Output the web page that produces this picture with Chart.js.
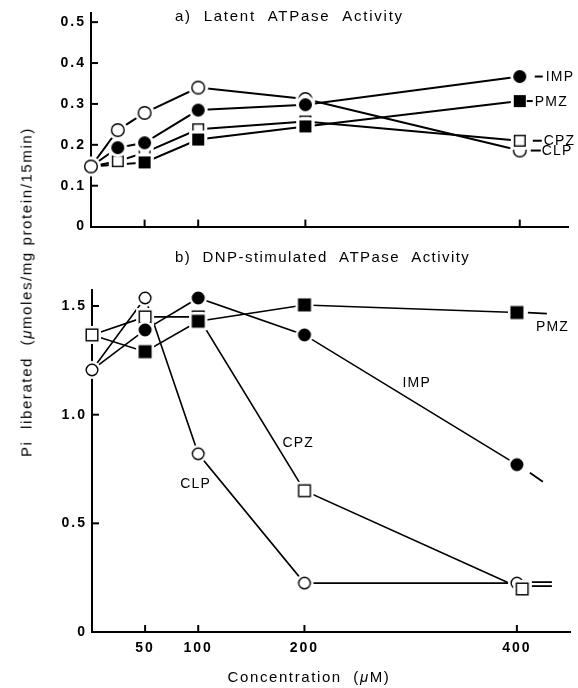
<!DOCTYPE html>
<html><head><meta charset="utf-8">
<script src="https://cdn.jsdelivr.net/npm/chart.js@4"></script>
<style>
html,body{margin:0;padding:0;background:#fff;width:578px;height:688px;overflow:hidden;position:relative}
canvas{position:absolute;left:0}
.txt{position:absolute;font-family:'Liberation Sans',Arial,sans-serif;font-size:15px;letter-spacing:1.6px;white-space:pre;color:#000}
#ytitle{left:26px;top:292px;transform:translate(-50%,-50%) rotate(-90deg)}
#xtitle{left:309px;top:676px;transform:translate(-50%,-50%)}
</style></head><body>
<canvas id="ca" width="578" height="240" style="top:0"></canvas>
<canvas id="cb" width="578" height="448" style="top:240px"></canvas>
<div id="ytitle" class="txt">Pi  liberated  (<i>μ</i>moles/mg protein/15min)</div>
<div id="xtitle" class="txt">Concentration  (<i>μ</i>M)</div>
<script>
// ---------- data ----------
// panel a) Latent ATPase Activity
const concA = [0, 25, 50, 100, 200, 400];
const clpA = [0.147, 0.236, 0.278, 0.34, 0.312, 0.186];
const impA = [0.147, 0.193, 0.205, 0.285, 0.298, 0.367];
const cpzA = [0.147, 0.160, 0.181, 0.238, 0.257, 0.210];
const pmzA = [0.147, null, 0.157, 0.213, 0.245, 0.307];
// panel b) DNP-stimulated ATPase Activity
const concB = [0, 50, 100, 200, 400];
const concB_cpz = [0, 50, 100, 200, 405];
const clpB = [1.206, 1.537, 0.82, 0.225, 0.225];
const impB = [1.206, 1.39, 1.537, 1.367, 0.77];
const cpzB = [1.367, 1.45, 1.45, 0.65, 0.198];
const pmzB = [1.367, 1.29, 1.43, 1.505, 1.47];
// ticks
const xTickVals = [50, 100, 200, 400];
const xTickLabels = ['50', '100', '200', '400'];
const yTickValsA = [0, 0.1, 0.2, 0.3, 0.4, 0.5];
const yTickLabelsA = ['0', '0.1', '0.2', '0.3', '0.4', '0.5'];
const yTickValsB = [0, 0.5, 1.0, 1.5];
const yTickLabelsB = ['0', '0.5', '1.0', '1.5'];
const titleA = 'a)  Latent  ATPase  Activity';
const titleB = 'b)  DNP-stimulated  ATPase  Activity';

// ---------- marker images ----------
function marker(shape, filled, size, halo) {
  const c = document.createElement('canvas');
  const S = Math.ceil(size + 2 * halo + 2);
  c.width = S; c.height = S;
  const g = c.getContext('2d');
  const m = S / 2;
  g.fillStyle = '#fff';
  if (shape === 'circle') { g.beginPath(); g.arc(m, m, size / 2 + halo, 0, 2 * Math.PI); g.fill(); }
  else { g.fillRect(m - size / 2 - halo, m - size / 2 - halo, size + 2 * halo, size + 2 * halo); }
  g.lineWidth = 1.4; g.strokeStyle = '#000'; g.fillStyle = filled ? '#000' : '#fff';
  if (shape === 'circle') { g.beginPath(); g.arc(m, m, size / 2 - 0.7, 0, 2 * Math.PI); g.fill(); g.stroke(); }
  else { g.fillRect(m - size / 2 + 0.7, m - size / 2 + 0.7, size - 1.4, size - 1.4); g.strokeRect(m - size / 2 + 0.7, m - size / 2 + 0.7, size - 1.4, size - 1.4); }
  return c;
}

const FONT = "'Liberation Sans', Arial, sans-serif";

function pts(xs, ys) { const out = []; xs.forEach((x, i) => { if (ys[i] !== null) out.push({ x: x, y: ys[i] }); }); return out; }

// line-only dataset (drawn beneath every marker)
function lineDs(label, xs, ys, lw) {
  return { label, data: pts(xs, ys), pointRadius: 0, borderColor: '#000', borderWidth: lw, tension: 0,
    order: 10, clip: false, spanGaps: true };
}
// marker-only dataset
function markDs(label, xs, ys, img, order, showFirst) {
  return { label, data: pts(xs, ys), showLine: false, pointStyle: img,
    pointRadius: c => (c.dataIndex === 0 && !showFirst) ? 0 : 7,
    order, clip: false };
}

const decoPlugin = {
  id: 'deco',
  beforeDraw(chart) { chart.ctx.letterSpacing = '2px'; },
  afterDraw(chart, args, opts) {
    const ctx = chart.ctx; const xs = chart.scales.x, ys = chart.scales.y;
    ctx.save();
    ctx.strokeStyle = '#000'; ctx.lineWidth = 2; ctx.lineCap = 'butt';
    // inward ticks
    xTickVals.forEach(v => { const px = xs.getPixelForValue(v); ctx.beginPath(); ctx.moveTo(px, ys.bottom); ctx.lineTo(px, ys.bottom - 7); ctx.stroke(); });
    opts.yTicks.forEach(v => { if (v === 0) return; const py = ys.getPixelForValue(v); ctx.beginPath(); ctx.moveTo(xs.left, py); ctx.lineTo(xs.left + 7, py); ctx.stroke(); });
    // panel title
    ctx.fillStyle = '#000'; ctx.letterSpacing = opts.titleSp;
    ctx.font = '15px ' + FONT; ctx.textBaseline = 'middle'; ctx.textAlign = 'left';
    ctx.fillText(opts.title, opts.titleX, opts.titleY);
    // series labels & dashes (relative to a data point)
    ctx.letterSpacing = '1.2px'; ctx.font = '14px ' + FONT;
    ctx.lineWidth = opts.dashW;
    opts.labels.forEach(l => {
      const px = xs.getPixelForValue(l.x), py = ys.getPixelForValue(l.y);
      if (l.dash) l.dash.forEach(d => { ctx.beginPath(); ctx.moveTo(px + d[0], py + d[1]); ctx.lineTo(px + d[2], py + d[3]); ctx.stroke(); });
      if (l.text) ctx.fillText(l.text, px + l.tx, py + l.ty);
    });
    ctx.restore();
  }
};

function ticksFrom(vals, labels) {
  return {
    afterBuildTicks: s => { s.ticks = vals.map(v => ({ value: v })); },
    callback: (v) => { const i = vals.indexOf(v); return i >= 0 ? labels[i] : ''; }
  };
}

function makeChart(id, cfg) {
  const yt = ticksFrom(cfg.yTicks, cfg.yLabels);
  const xt = ticksFrom(xTickVals, xTickLabels);
  return new Chart(document.getElementById(id), {
    type: 'line',
    data: { datasets: cfg.datasets },
    options: {
      responsive: false, animation: false, devicePixelRatio: 1,
      layout: { padding: cfg.padding },
      plugins: { legend: { display: false }, tooltip: { enabled: false },
        deco: { yTicks: cfg.yTicks, title: cfg.title, titleX: cfg.titleX, titleY: cfg.titleY, titleSp: cfg.titleSp, labels: cfg.labels, dashW: cfg.dashW } },
      scales: {
        x: { type: 'linear', min: 0, max: cfg.xmax, afterBuildTicks: xt.afterBuildTicks,
          afterFit: s => { s.height = cfg.xh; },
          grid: { display: false, drawTicks: false }, border: { display: true, color: '#000', width: 2 },
          ticks: { display: cfg.xLabels, callback: xt.callback, padding: 8, maxRotation: 0, autoSkip: false,
            color: '#000', font: { family: FONT, size: 14, weight: 'bold' } } },
        y: { type: 'linear', min: 0, max: cfg.ymax, afterBuildTicks: yt.afterBuildTicks,
          afterFit: s => { s.width = cfg.yw; },
          grid: { display: false, drawTicks: false }, border: { display: true, color: '#000', width: 2 },
          ticks: { callback: yt.callback, padding: 5, autoSkip: false, color: '#000', font: { family: FONT, size: 14, weight: 'bold' } } }
      }
    },
    plugins: [decoPlugin]
  });
}

// panel a
const hA = 3;
makeChart('ca', {
  datasets: [
    lineDs('PMZ', concA, pmzA, 2), lineDs('IMP', concA, impA, 2), lineDs('CPZ', concA, cpzA, 2), lineDs('CLP', concA, clpA, 2),
    markDs('PMZ', concA, pmzA, marker('square', true, 12, hA), 0, false),
    markDs('IMP', concA, impA, marker('circle', true, 13, hA), 1, false),
    markDs('CPZ', concA, cpzA, marker('square', false, 12, hA), 2, false),
    markDs('CLP', concA, clpA, marker('circle', false, 14, hA), 3, true)
  ],
  padding: { left: 0, right: 10, top: 12, bottom: 0 },
  xmax: 445, ymax: 0.5214, xh: 9, yw: 91, xLabels: false,
  yTicks: yTickValsA, yLabels: yTickLabelsA,
  title: titleA, titleX: 175, titleY: 17, titleSp: '1.75px', dashW: 2,
  labels: [
    { x: 400, y: impA[5], dash: [[15, 0, 23, 0]], text: 'IMP', tx: 26, ty: 1 },
    { x: 400, y: pmzA[5], dash: [[7, 0, 13, 0]], text: 'PMZ', tx: 15, ty: 1 },
    { x: 400, y: cpzA[5], dash: [[13, 0, 22, 0]], text: 'CPZ', tx: 24, ty: 0 },
    { x: 400, y: clpA[5], dash: [[11, 0, 21, 0]], text: 'CLP', tx: 22, ty: 1 }
  ]
});

// panel b
const hB = 2.5;
makeChart('cb', {
  datasets: [
    lineDs('PMZ', concB, pmzB, 1.6), lineDs('IMP', concB, impB, 1.6), lineDs('CPZ', concB_cpz, cpzB, 1.6), lineDs('CLP', concB, clpB, 1.6),
    markDs('PMZ', concB, pmzB, marker('square', true, 13, hB), 0, false),
    markDs('IMP', concB, impB, marker('circle', true, 13, hB), 1, false),
    markDs('CPZ', concB_cpz, cpzB, marker('square', false, 13, hB), 2, true),
    markDs('CLP', concB, clpB, marker('circle', false, 13, hB), 3, true)
  ],
  padding: { left: 0, right: 1, top: 50, bottom: 0 },
  xmax: 450, ymax: 1.5737, xh: 56, yw: 92, xLabels: true,
  yTicks: yTickValsB, yLabels: yTickLabelsB,
  title: titleB, titleX: 175, titleY: 18, titleSp: '1.45px', dashW: 1.8,
  labels: [
    { x: 400, y: pmzB[4], dash: [[11, 0, 30, 1]], text: 'PMZ', tx: 19, ty: 15 },
    { x: 400, y: impB[4], dash: [[13, 8, 26, 17]] },
    { x: 400, y: clpB[4], dash: [[15, -1, 35, -1], [15, 3, 35, 3]] },
    { x: 200, y: impB[3], text: 'IMP', tx: 98, ty: 48 },
    { x: 200, y: cpzB[3], text: 'CPZ', tx: -22, ty: -48 },
    { x: 100, y: clpB[2], text: 'CLP', tx: -18, ty: 30 }
  ]
});
</script>
</body></html>
